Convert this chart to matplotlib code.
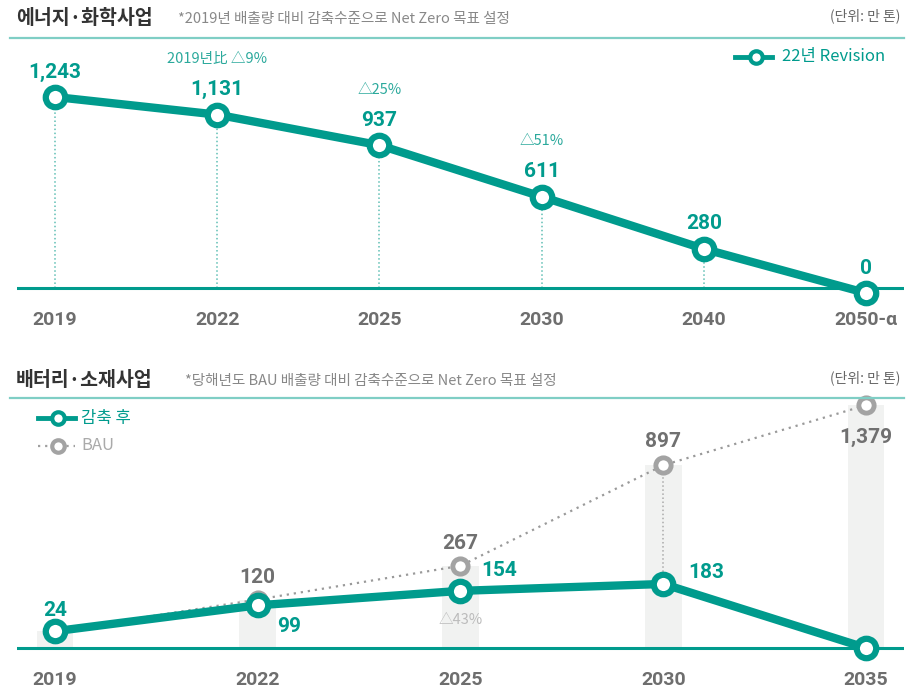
import numpy as np
import matplotlib.pyplot as plt
from matplotlib.lines import Line2D

plt.rcParams['font.family'] = ['Noto Sans CJK KR', 'DejaVu Sans']

# 에너지·화학사업
years_top = ['2019', '2022', '2025', '2030', '2040', '2050-α']
rev_top = [1243, 1131, 937, 611, 280, 0]
rev_lbl = ['1,243', '1,131', '937', '611', '280', '0']
pct_top = {1: '2019년比 △9%', 2: '△25%', 3: '△51%'}

# 배터리·소재사업
years_bot = ['2019', '2022', '2025', '2030', '2035']
after_bot = [24, 99, 154, 183, 0]
bau_bot = [24, 120, 267, 897, 1379]

TEAL = '#009B8D'
LTEAL = '#7FCEC5'
GREY = '#707070'
W, H = 914, 689


def fx(x):
    return x / W


def fy(y):
    return 1 - y / H


fig = plt.figure(figsize=(W / 100, H / 100), dpi=100)
num = ['Roboto', 'DejaVu Sans']

# ---- headers
for yy in (38, 398):
    fig.add_artist(Line2D([fx(10), fx(904)], [fy(yy), fy(yy)], color=LTEAL, lw=1.6))
fig.text(fx(16), fy(18), '에너지·화학사업', fontsize=14, fontweight='bold', color='#333333', va='center')
fig.text(fx(178), fy(19), '*2019년 배출량 대비 감축수준으로 Net Zero 목표 설정', fontsize=10.5, color='#888888', va='center')
fig.text(fx(900), fy(16), '(단위: 만 톤)', fontsize=10, color='#666666', va='center', ha='right')
fig.text(fx(16), fy(380), '배터리·소재사업', fontsize=14, fontweight='bold', color='#333333', va='center')
fig.text(fx(185), fy(381), '*당해년도 BAU 배출량 대비 감축수준으로 Net Zero 목표 설정', fontsize=10.5, color='#888888', va='center')
fig.text(fx(900), fy(378), '(단위: 만 톤)', fontsize=10, color='#666666', va='center', ha='right')

# ---- top chart
ax1 = fig.add_axes([fx(17), fy(300), 887 / W, 260 / H])
x1 = np.arange(len(years_top))
ax1.set_xlim(-0.234, 5.234)
ax1.set_ylim(-44, 1604)
ax1.axhline(32, color=TEAL, lw=2.2, zorder=2)
ax1.vlines(x1[:-1], 32, rev_top[:-1], colors='#5FBFB4', linestyles=':', lw=1.1, zorder=1)
ax1.plot(x1, rev_top, color=TEAL, lw=6, marker='o', ms=14, mfc='white', mec=TEAL, mew=4.5,
         zorder=4, clip_on=False)
for i, v in enumerate(rev_top):
    ax1.annotate(rev_lbl[i], (x1[i], v), xytext=(0, 18), textcoords='offset points',
                 ha='center', va='center', fontsize=15, fontweight='bold', color=TEAL, family=num)
for i, t in pct_top.items():
    ax1.annotate(t, (x1[i], rev_top[i]), xytext=(0, 40), textcoords='offset points',
                 ha='center', va='center', fontsize=10.5, color='#2BA99C')
ax1.set_xticks(x1, years_top)

# legend top
fig.add_artist(Line2D([fx(735), fx(772)], [fy(57), fy(57)], color=TEAL, lw=3.5))
fig.add_artist(Line2D([fx(756)], [fy(57)], marker='o', ms=9, mfc='white', mec=TEAL, mew=3))
fig.text(fx(782), fy(57), '22년 Revision', fontsize=12, color=TEAL, va='center')

# ---- bottom chart (power-compressed axis like the original artwork)
ax2 = fig.add_axes([fx(17), fy(660), 887 / W, 260 / H])
p = 0.66
ax2.set_yscale('function', functions=(lambda v: np.sign(v) * np.abs(v) ** p,
                                      lambda v: np.sign(v) * np.abs(v) ** (1 / p)))
x2 = np.arange(len(years_bot))
ax2.set_xlim(-0.187, 4.187)
ax2.set_ylim(-14.5, 1424)
ax2.bar(x2, bau_bot, width=0.18, color='#F1F2F1', zorder=0)
ax2.axhline(0, color=TEAL, lw=2.2, zorder=2)
ax2.plot(x2, bau_bot, color='#9A9A9A', lw=1.6, ls=(0, (1, 2.2)), zorder=2)
ax2.plot(x2[1:], bau_bot[1:], ls='none', marker='o', ms=11, mfc='white', mec='#A3A3A3', mew=3.5,
         zorder=3, clip_on=False)
ax2.vlines(x2[3], after_bot[3], bau_bot[3], colors='#AAAAAA', linestyles=':', lw=1.1, zorder=1)
ax2.plot(x2, after_bot, color=TEAL, lw=6, marker='o', ms=14, mfc='white', mec=TEAL, mew=4.5,
         zorder=4, clip_on=False)

# labels bottom
ax2.annotate('24', (x2[0], after_bot[0]), xytext=(0, 15), textcoords='offset points',
             ha='center', va='center', fontsize=15, fontweight='bold', color=TEAL, family=num)
ax2.annotate('99', (x2[1], after_bot[1]), xytext=(14, -15), textcoords='offset points',
             ha='left', va='center', fontsize=15, fontweight='bold', color=TEAL, family=num)
ax2.annotate('154', (x2[2], after_bot[2]), xytext=(15, 15), textcoords='offset points',
             ha='left', va='center', fontsize=15, fontweight='bold', color=TEAL, family=num)
ax2.annotate('183', (x2[3], after_bot[3]), xytext=(18, 8), textcoords='offset points',
             ha='left', va='center', fontsize=15, fontweight='bold', color=TEAL, family=num)
bau_txt = {1: ('120', 16), 2: ('267', 16), 3: ('897', 17), 4: ('1,379', -23)}
for i, (t, dy) in bau_txt.items():
    ax2.annotate(t, (x2[i], bau_bot[i]), xytext=(0, dy), textcoords='offset points',
                 ha='center', va='center', fontsize=15, fontweight='bold', color=GREY, family=num)
ax2.annotate('△43%', (x2[2], after_bot[2]), xytext=(0, -21), textcoords='offset points',
             ha='center', va='center', fontsize=10.5, color='#BBBBBB')
ax2.set_xticks(x2, years_bot)

# legend bottom
fig.add_artist(Line2D([fx(38), fx(75)], [fy(418), fy(418)], color=TEAL, lw=3.5))
fig.add_artist(Line2D([fx(58)], [fy(418)], marker='o', ms=9, mfc='white', mec=TEAL, mew=3))
fig.text(fx(81), fy(418), '감축 후', fontsize=12, color=TEAL, va='center')
fig.add_artist(Line2D([fx(38), fx(75)], [fy(446), fy(446)], color='#A0A0A0', lw=1.6, ls=(0, (1, 2.2))))
fig.add_artist(Line2D([fx(58)], [fy(446)], marker='o', ms=9, mfc='white', mec='#A3A3A3', mew=3))
fig.text(fx(81), fy(446), 'BAU', fontsize=12, color='#AAAAAA', va='center')

for ax in (ax1, ax2):
    for s in ax.spines.values():
        s.set_visible(False)
    ax.set_yticks([])
    ax.minorticks_off()
    ax.tick_params(axis='x', length=0, pad=8)
    for lb in ax.get_xticklabels():
        lb.set_fontfamily(num)
        lb.set_fontsize(14)
        lb.set_fontweight('bold')
        lb.set_color('#6E6E6E')
    ax.patch.set_alpha(0)

fig.savefig('out.png', dpi=100)
